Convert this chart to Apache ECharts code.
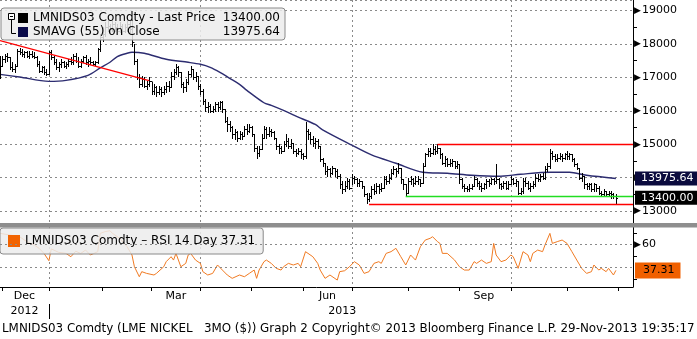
<!DOCTYPE html>
<html><head><meta charset="utf-8">
<script src="https://cdn.jsdelivr.net/npm/echarts@6/dist/echarts.min.js"></script>
<style>html,body{margin:0;padding:0;background:#fff}#c{width:697px;height:339px}</style>
</head><body><div id="c"></div>
<script>
// ---------- data ----------
const firstDay = '2012-11-30';
const lastDay = '2013-12-10';
const holidays = ['2012-12-25','2012-12-26','2013-01-01','2013-03-29','2013-04-01','2013-05-06','2013-05-27','2013-08-26'];

const closes = [
17350,17550,17650,17600,17300,17250,17350,17800,17750,17700,17750,17650,17700,17650,17600,17400,17200,17300,17150,17100,
17750,17600,17450,17300,17400,17450,17350,17400,17500,17450,17650,17500,17350,17500,17600,17450,17500,17450,17400,17450,17850,18200,
18300,18500,18550,18450,18600,18500,18400,18550,18400,18500,18600,18450,18050,17500,17000,16800,16950,16750,16800,16900,
16600,16700,16550,16650,16550,16650,16750,16700,17050,17150,17300,17150,16800,16700,16850,17100,17250,17000,17050,16750,
16600,16300,16100,16150,16000,16050,16200,16100,16250,16050,15700,15600,15500,15300,15350,15200,15300,15250,15450,15400,15500,
15300,14900,14750,14850,15200,15450,15300,15400,15350,15200,14950,14900,14800,15000,15100,14950,15050,14800,14750,14800,14700,
14650,15400,15300,15150,15050,15100,14950,14550,14450,14200,14250,14150,14300,14200,14050,13800,13650,13750,13900,13700,
14000,13950,13850,13900,13750,13500,13350,13450,13650,13600,13750,13650,13700,13950,13900,14000,14150,14250,14200,14300,13950,13800,13550,
13900,13950,13850,13900,13950,13850,14350,14700,14800,14750,14850,14800,14900,14700,14450,14550,14400,14450,14500,14350,14400,
13950,13750,13700,13650,13700,13750,13950,13850,13750,13700,13800,13900,13850,13950,13900,13950,13800,13750,13850,13700,13800,
13950,13850,13900,13550,13600,13900,13850,13700,13750,13800,14000,13950,14050,14000,14250,14350,14750,14650,14550,14600,14650,14600,14700,
14650,14700,14550,14400,14300,14000,14050,13800,13750,13800,13650,13800,13700,13550,13500,13600,13500,13550,13500,13450,13400];

const highs = [
17650,17650,17700,17720,17600,17450,17400,17850,17870,17850,17800,17800,17780,17800,17750,17650,17500,17350,17350,17250,
17800,17820,17650,17550,17450,17550,17500,17450,17550,17600,17700,17720,17600,17550,17650,17660,17550,17600,17500,17500,17880,18300,
18500,18650,18800,18600,18700,18650,18600,18650,18600,18600,18800,18700,18700,18000,17550,17100,17050,17000,16900,17000,
16850,16800,16750,16750,16700,16750,16850,16900,17150,17250,17400,17350,17150,16850,16950,17200,17350,17250,17150,17050,
16800,16650,16350,16250,16200,16150,16250,16250,16300,16300,16050,15800,15700,15550,15450,15400,15400,15350,15550,15600,15600,
15550,15300,14950,14950,15300,15550,15500,15500,15450,15400,15200,15000,14950,15100,15300,15200,15150,15050,14850,14900,14850,
14750,15650,15450,15350,15250,15200,15150,14950,14600,14450,14350,14300,14350,14300,14250,14100,13900,13900,14000,13950,
14100,14050,14000,13950,13900,13750,13550,13550,13750,13800,13850,13800,13850,14050,14050,14100,14250,14350,14300,14450,14300,13950,13800,
14000,14050,14000,14050,14050,13950,14450,14750,14900,14900,15000,14950,15000,14900,14750,14650,14600,14550,14550,14500,14500,
14400,14000,13800,13750,13800,13800,14050,14000,13900,13850,13850,13950,13950,14000,14000,14400,14000,13850,13900,13900,13900,
14050,14000,13950,13900,13700,14000,14000,13900,13850,13900,14100,14100,14100,14150,14350,14450,14850,14800,14700,14700,14750,14700,14750,
14800,14750,14700,14600,14450,14300,14150,14050,13850,13850,13850,13850,13800,13750,13600,13650,13600,13600,13600,13550,13500];

const lows = [
16980,17350,17450,17500,17250,17200,17150,17350,17700,17650,17600,17600,17580,17600,17570,17350,17150,17150,17100,17060,
17100,17550,17400,17250,17200,17300,17300,17280,17350,17400,17400,17450,17300,17320,17450,17400,17350,17400,17360,17380,17420,17800,
18100,18250,18400,18300,18400,18400,18300,18350,18300,18350,18400,18350,17950,17400,16950,16700,16750,16700,16650,16750,
16500,16500,16450,16500,16450,16500,16550,16600,16700,16950,17100,17050,16700,16550,16600,16800,17050,16950,16900,16650,
16500,16200,16000,15950,15950,15950,16000,16000,16050,15950,15650,15400,15400,15200,15150,15100,15150,15150,15250,15300,15350,
15250,14800,14600,14650,14850,15200,15200,15250,15250,15150,14850,14750,14750,14800,14950,14900,14900,14750,14650,14700,14600,
14550,14600,15150,15050,14950,14900,14900,14500,14350,14100,14050,14050,14100,14050,14000,13700,13550,13600,13700,13650,
13800,13850,13750,13750,13700,13450,13250,13300,13400,13500,13550,13550,13600,13700,13800,13850,13950,14100,14050,14150,13850,13650,13450,
13550,13800,13750,13800,13800,13750,13850,14350,14650,14650,14700,14700,14750,14600,14400,14350,14350,14350,14350,14300,14300,
13850,13700,13600,13600,13600,13650,13750,13750,13650,13600,13650,13700,13750,13800,13800,13850,13700,13650,13700,13650,13650,
13800,13800,13750,13500,13500,13550,13750,13650,13600,13700,13750,13900,13900,13950,13950,14200,14300,14550,14500,14500,14550,14500,14550,
14550,14550,14500,14350,14250,13950,13900,13700,13650,13650,13600,13600,13600,13500,13450,13450,13450,13450,13400,13400,13250];

// SMAVG(55): [trading-day index, value]
const smaPoints = [[0,17090],[8,17010],[20,16880],[27,16910],[36,17060],[41,17280],[45,17450],[48,17620],[52,17720],[54,17750],
[59,17720],[68,17540],[77,17450],[82,17390],[86,17300],[90,17150],[94,16970],[98,16790],[101,16610],[108,16240],[111,16160],
[116,16010],[123,15780],[129,15590],[132,15430],[144,14970],[152,14680],[162,14430],[173,14160],[183,14130],[193,14070],
[204,14040],[213,14100],[225,14160],[233,14160],[240,14070],[252,13975.64]];

// RSI 14 day: [trading-day index, value]
const rsiPoints = [[0,69.5],[4,68.1],[8,66.6],[11,62.3],[14,59.4],[16,56.5],[18,52.1],[20,45.7],[21,56],[24,53],[27,52.1],[29,49.2],
[31,54],[33,52],[35,55],[37,50.7],[40,53.6],[41,69.5],[43,71],[45,71.8],[46,69.5],[49,65.2],[52,57.9],[54,50.7],[55,40.5],[57,31.8],
[58,36.2],[60,34.7],[63,33.3],[64,34.7],[67,40.5],[68,44.9],[70,49.2],[71,46.3],[72,52.1],[74,40.5],[76,43.4],[77,50.7],[78,52.1],
[80,46.3],[82,43.4],[83,36.2],[85,33.3],[87,34.7],[89,42],[91,37.6],[93,33.3],[95,30.4],[98,33.3],[100,31.8],[102,34.7],[104,37.6],
[105,30.4],[106,37.6],[108,44.9],[109,46.3],[111,43.4],[113,39.1],[115,37.6],[116,40.5],[118,43.4],[120,42],[122,43.4],[123,40.5],
[125,53.6],[128,49.2],[130,43.4],[131,37.6],[133,30.4],[135,33.3],[138,28.9],[139,36.2],[141,37],[143,40.5],[145,44.9],[147,42],
[149,34.7],[151,36.2],[153,43.4],[155,44.9],[156,43.4],[158,52.1],[160,53.6],[162,56.5],[164,49.2],[166,42],[168,50.7],[170,46.3],
[172,57.9],[174,63.7],[176,65.2],[177,66.6],[179,62.3],[180,60.8],[181,52.1],[183,52.1],[186,46.3],[188,40.5],[190,37.6],[192,37.6],
[194,44.9],[195,43.4],[197,46.3],[199,43.4],[201,44.9],[202,60.8],[203,50.7],[205,44.9],[207,46.3],[209,50.7],[210,49.2],[212,39.1],
[214,53.6],[216,50.7],[217,44.9],[218,52.1],[220,55],[222,53.6],[223,59.4],[225,69.5],[226,60.8],[228,62.3],[230,63.7],[232,60.8],
[234,53.6],[236,46.3],[238,39.1],[240,34.7],[242,36.2],[243,42],[245,37.6],[246,39.1],[248,36.2],[249,39.1],[251,33.3],[252,37.31]];

const lastPrice = 13400.00;
const smaLast = 13975.64;
const rsiLast = 37.31;

// drawn study lines: [start day, start value, end day, end value, colour]
const studyLines = [
  ['2012-11-30', 18100, '2013-02-28', 16900, '#ff0000'],
  ['2013-08-19', 15000, '2013-12-10', 15000, '#ff0000'],
  ['2013-07-10', 13210, '2013-12-10', 13210, '#ff0000'],
  ['2013-07-31', 13440, '2013-12-10', 13440, '#22dd22']
];

const monthNames = ['Jan','Feb','Mar','Apr','May','Jun','Jul','Aug','Sep','Oct','Nov','Dec'];
const monthLabels = ['Dec','Mar','Jun','Sep'];
const yearLabels = ['2012','2013'];
const priceName = 'LMNIDS03 Comdty - Last Price';
const smaName = 'SMAVG (55) on Close';
const rsiName = 'LMNIDS03 Comdty \u2013 RSI 14 Day';
const footer = 'LMNIDS03 Comdty (LME NICKEL   3MO ($)) Graph 2 Copyright\u00a9 2013 Bloomberg Finance L.P. 29-Nov-2013 19:35:17';

// ---------- categories ----------
function buildDays(a, b, hol) {
  const out = []; const d = new Date(a + 'T00:00:00Z'); const e = new Date(b + 'T00:00:00Z');
  while (d <= e) {
    const wd = d.getUTCDay(); const s = d.toISOString().slice(0, 10);
    if (wd !== 0 && wd !== 6 && hol.indexOf(s) < 0) out.push(s);
    d.setUTCDate(d.getUTCDate() + 1);
  }
  return out;
}
const days = buildDays(firstDay, lastDay, holidays);
if (closes.length !== highs.length || closes.length !== lows.length) throw new Error('len ' + closes.length + ' ' + highs.length + ' ' + lows.length);

const monthStart = days.map((d, i) => i > 0 && d.slice(0, 7) !== days[i - 1].slice(0, 7));
const quarterStart = days.map((d, i) => monthStart[i] && ['01','04','07','10'].indexOf(d.slice(5, 7)) >= 0);
const starts = []; monthStart.forEach((m, i) => { if (m) starts.push(i); });
const monthLabelAt = {};
for (let k = 0; k < starts.length - 1; k++) {
  const nm = monthNames[+days[starts[k]].slice(5, 7) - 1];
  if (monthLabels.indexOf(nm) >= 0) monthLabelAt[Math.floor((starts[k] + starts[k + 1]) / 2)] = nm;
}
const yearLabelAt = {}; const yearStart = days.map((d, i) => i > 0 && d.slice(0, 4) !== days[i - 1].slice(0, 4));
yearLabels.forEach(y => {
  let f = -1, l = -1; days.forEach((d, i) => { if (d.slice(0, 4) === y) { if (f < 0) f = i; l = i; } });
  if (f >= 0) yearLabelAt[Math.floor((f + l + 1) / 2)] = y;
});

const ohlc = closes.map((c, i) => [i, c, highs[i], lows[i], i > 0 ? closes[i - 1] : c]);

function renderOHLC(params, api) {
  const i = api.value(0);
  const pc = api.coord([i, api.value(1)]);
  const yh = api.coord([i, api.value(2)])[1];
  const yl = api.coord([i, api.value(3)])[1];
  const yo = api.coord([i, api.value(4)])[1];
  const px = Math.round(pc[0]) + 0.5;
  const st = { stroke: '#000', lineWidth: 1 };
  return { type: 'group', children: [
    { type: 'line', shape: { x1: px, y1: Math.round(yh), x2: px, y2: Math.round(yl) + 1 }, style: st },
    { type: 'line', shape: { x1: px - 1.5, y1: Math.round(yo) + 0.5, x2: px, y2: Math.round(yo) + 0.5 }, style: st },
    { type: 'line', shape: { x1: px, y1: Math.round(pc[1]) + 0.5, x2: px + 1.5, y2: Math.round(pc[1]) + 0.5 }, style: st }
  ] };
}

const FONT = 'DejaVu Sans';
const dash = { color: '#8a8a8a', type: [2, 3], width: 1 };
const tri = { fontSize: 9, color: '#000', padding: [0, 1, 0, 0], fontFamily: FONT };
const numStyle = { fontSize: 11, color: '#000', fontFamily: FONT };

const chart = echarts.init(document.getElementById('c'), null, { renderer: 'canvas' });
chart.setOption({
  animation: false,
  backgroundColor: '#fff',
  textStyle: { fontFamily: FONT },
  title: { text: footer, left: 2, top: 323, padding: 0, textStyle: { fontSize: 11.9, fontWeight: 'normal', color: '#000', fontFamily: FONT } },
  grid: [
    { left: 0, right: 64, top: -1, height: 224 },
    { left: 0, right: 64, top: 227, height: 60 }
  ],
  xAxis: [
    { gridIndex: 0, type: 'category', data: days, boundaryGap: false,
      axisLine: { show: false }, axisTick: { show: false }, axisLabel: { show: false },
      splitLine: { show: true, interval: (i) => quarterStart[i], lineStyle: dash } },
    { gridIndex: 1, type: 'category', data: days, boundaryGap: false,
      axisLine: { show: true, lineStyle: { color: '#000', width: 1 } },
      axisTick: { show: true, interval: (i) => monthStart[i], length: 4, lineStyle: { color: '#000' } },
      axisLabel: { interval: (i) => monthLabelAt[i] !== undefined, formatter: (v, i) => monthLabelAt[i] || '', margin: 4, fontSize: 11, color: '#000', fontFamily: FONT },
      splitLine: { show: true, interval: (i) => quarterStart[i], lineStyle: dash } },
    { gridIndex: 1, type: 'category', data: days, boundaryGap: false, position: 'bottom', offset: 17,
      axisLine: { show: false },
      axisTick: { show: true, interval: (i) => yearStart[i], length: 15, lineStyle: { color: '#000' } },
      axisLabel: { interval: (i) => yearLabelAt[i] !== undefined, formatter: (v, i) => yearLabelAt[i] || '', margin: 2, fontSize: 11, color: '#000', fontFamily: FONT },
      splitLine: { show: false } }
  ],
  yAxis: [
    { gridIndex: 0, type: 'value', position: 'right', min: 12643, max: 19313, splitNumber: 6, scale: true,
      axisLine: { show: true, lineStyle: { color: '#000', width: 1 } }, axisTick: { show: false },
      minorTick: { show: true, splitNumber: 2, length: 4, lineStyle: { color: '#000' } },
      splitLine: { show: true, lineStyle: dash }, minorSplitLine: { show: false },
      axisLabel: { margin: 1, formatter: (v) => (v % 1000 === 0 ? '{t|\u25B6}{v|' + v + '}' : ''), rich: { t: tri, v: numStyle } } },
    { gridIndex: 1, type: 'value', position: 'right', min: 22.87, max: 75.04, splitNumber: 3, scale: true,
      axisLine: { show: true, lineStyle: { color: '#000', width: 1 } }, axisTick: { show: false },
      minorTick: { show: true, splitNumber: 2, length: 4, lineStyle: { color: '#000' } },
      splitLine: { show: false },
      axisLabel: { margin: 1, formatter: (v) => (v === 60 ? '{t|\u25B6}{v|' + v + '}' : ''), rich: { t: tri, v: numStyle } } }
  ],
  legend: [
    { left: 1, top: 8, orient: 'vertical', itemWidth: 10, itemHeight: 10, itemGap: 2, padding: [4, 5, 2, 17],
      backgroundColor: 'rgba(236,236,236,0.85)', borderColor: '#8a8a8a', borderWidth: 1, borderRadius: 3, selectedMode: false,
      data: [{ name: priceName, icon: 'rect', itemStyle: { color: '#000' } }, { name: smaName, icon: 'rect', itemStyle: { color: '#0a0a4a' } }],
      formatter: (n) => '{n|' + n + '}{v|' + (n === priceName ? lastPrice.toFixed(2) : smaLast.toFixed(2)) + '}',
      textStyle: { rich: { n: { width: 188, fontSize: 12, lineHeight: 14, color: '#000', fontFamily: FONT }, v: { width: 59, align: 'right', fontSize: 12, lineHeight: 14, color: '#000', fontFamily: FONT } } } },
    { left: 0, top: 228, itemWidth: 12, itemHeight: 12, padding: [7, 8, 7, 8],
      backgroundColor: 'rgba(236,236,236,0.85)', borderColor: '#8a8a8a', borderWidth: 1, borderRadius: 3, selectedMode: false,
      data: [{ name: rsiName, icon: 'rect', itemStyle: { color: '#f26300' } }],
      formatter: (n) => n + ' ' + rsiLast.toFixed(2),
      textStyle: { fontSize: 12, color: '#000', fontFamily: FONT } }
  ],
  graphic: [
    { type: 'rect', shape: { x: 0, y: 223, width: 697, height: 4.5 }, style: { fill: '#8e8e8e' }, z: 100 },
    { type: 'rect', shape: { x: 8.5, y: 13.5, width: 6, height: 6 }, style: { fill: '#fff', stroke: '#000', lineWidth: 1 }, z: 101 },
    { type: 'line', shape: { x1: 10, y1: 16.5, x2: 13, y2: 16.5 }, style: { stroke: '#000', lineWidth: 1 }, z: 101 },
    { type: 'polyline', shape: { points: [[11.5, 19.5], [11.5, 33.5], [16, 33.5]] }, style: { stroke: '#000', lineWidth: 1, fill: null }, z: 101 }
  ],
  series: [
    { name: priceName, type: 'custom', xAxisIndex: 0, yAxisIndex: 0, renderItem: renderOHLC, data: ohlc,
      encode: { x: 0, y: [1, 2, 3, 4] }, clip: true, z: 3,
      markLine: { silent: true, symbol: 'none', animation: false,
        data: studyLines.map(s => [{ coord: [s[0], s[1]], lineStyle: { color: s[4], width: 1.3, type: 'solid' } }, { coord: [s[2], s[3]] }])
          .concat([{ yAxis: lastPrice, lineStyle: { color: 'transparent', width: 0 },
            label: { show: true, position: 'end', distance: 2, formatter: lastPrice.toFixed(2), backgroundColor: '#000', color: '#fff', padding: [2, 4, 1, 6], fontSize: 11, fontFamily: FONT } }]),
        label: { show: false } } },
    { name: smaName, type: 'line', xAxisIndex: 0, yAxisIndex: 0, data: smaPoints, smooth: 0.3, showSymbol: false, symbol: 'none',
      lineStyle: { color: '#2c2c70', width: 1.4 }, z: 2,
      markLine: { silent: true, symbol: 'none', animation: false,
        data: [{ yAxis: smaLast, lineStyle: { color: 'transparent', width: 0 },
          label: { show: true, position: 'end', distance: 2, formatter: smaLast.toFixed(2), backgroundColor: '#0b0b3e', color: '#fff', padding: [2, 4, 1, 6], fontSize: 11, fontFamily: FONT } }] } },
    { name: rsiName, type: 'line', xAxisIndex: 1, yAxisIndex: 1, data: rsiPoints, showSymbol: false, symbol: 'none',
      lineStyle: { color: '#f07a22', width: 1 }, z: 2,
      markLine: { silent: true, symbol: 'none', animation: false,
        data: [
          { yAxis: 60, lineStyle: dash, label: { show: false } },
          { yAxis: 40, lineStyle: dash, label: { show: false } },
          { yAxis: rsiLast, lineStyle: { color: 'transparent', width: 0 },
            label: { show: true, position: 'end', distance: 2, formatter: rsiLast.toFixed(2), backgroundColor: '#f06000', color: '#000', padding: [3, 6, 2, 8], fontSize: 11, fontFamily: FONT } }] } }
  ]
});
</script></body></html>
